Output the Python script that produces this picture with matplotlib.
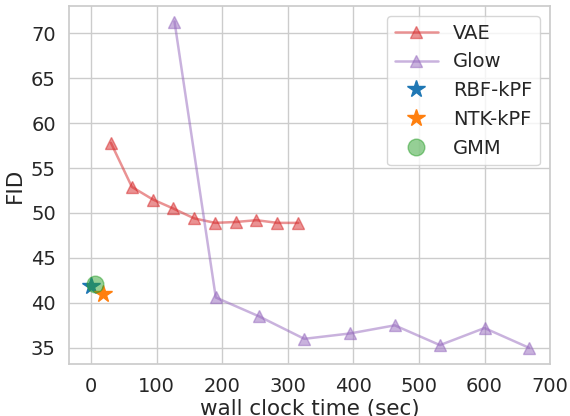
import matplotlib

matplotlib.use("Agg")

import matplotlib.pyplot as plt
import seaborn as sns

vae_time = [30, 62, 94, 125, 157, 189, 221, 252, 284, 316]
vae_fid = [57.8, 52.9, 51.5, 50.5, 49.4, 48.9, 49.0, 49.2, 48.9, 48.9]
glow_time = [127, 190, 256, 325, 395, 463, 532, 600, 668]
glow_fid = [71.3, 40.6, 38.5, 36.0, 36.6, 37.5, 35.3, 37.2, 35.0]
rbf_time, rbf_fid = [0], [41.9]
ntk_time, ntk_fid = [18], [41.0]
gmm_time, gmm_fid = [5], [42.1]

sns.set_theme(style="whitegrid")

fig, ax = plt.subplots(figsize=(5.7, 4.16), dpi=100)
ax.plot(vae_time, vae_fid, color="tab:red", marker="^", markersize=8, alpha=0.5, linewidth=1.8, label="VAE")
ax.plot(glow_time, glow_fid, color="tab:purple", marker="^", markersize=8, alpha=0.5, linewidth=1.8, label="Glow")
ax.plot(rbf_time, rbf_fid, color="tab:blue", marker="*", markersize=13, linestyle="none", label="RBF-kPF")
ax.plot(ntk_time, ntk_fid, color="tab:orange", marker="*", markersize=13, linestyle="none", label="NTK-kPF")
ax.plot(gmm_time, gmm_fid, color="tab:green", marker="o", markersize=12, alpha=0.5, linestyle="none", label="GMM")

ax.set_xlim(-34, 700)
ax.set_ylim(33.2, 73)
ax.set_xticks(range(0, 701, 100))
ax.set_yticks(range(35, 71, 5))
ax.tick_params(labelsize=14)
ax.set_xlabel("wall clock time (sec)", fontsize=15.5, labelpad=2)
ax.set_ylabel("FID", fontsize=15.5)
ax.legend(fontsize=14, loc="upper right", labelspacing=0.5, handlelength=2.2)
fig.subplots_adjust(left=0.121, right=0.965, top=0.985, bottom=0.125)
fig.savefig("out.png", dpi=100)
